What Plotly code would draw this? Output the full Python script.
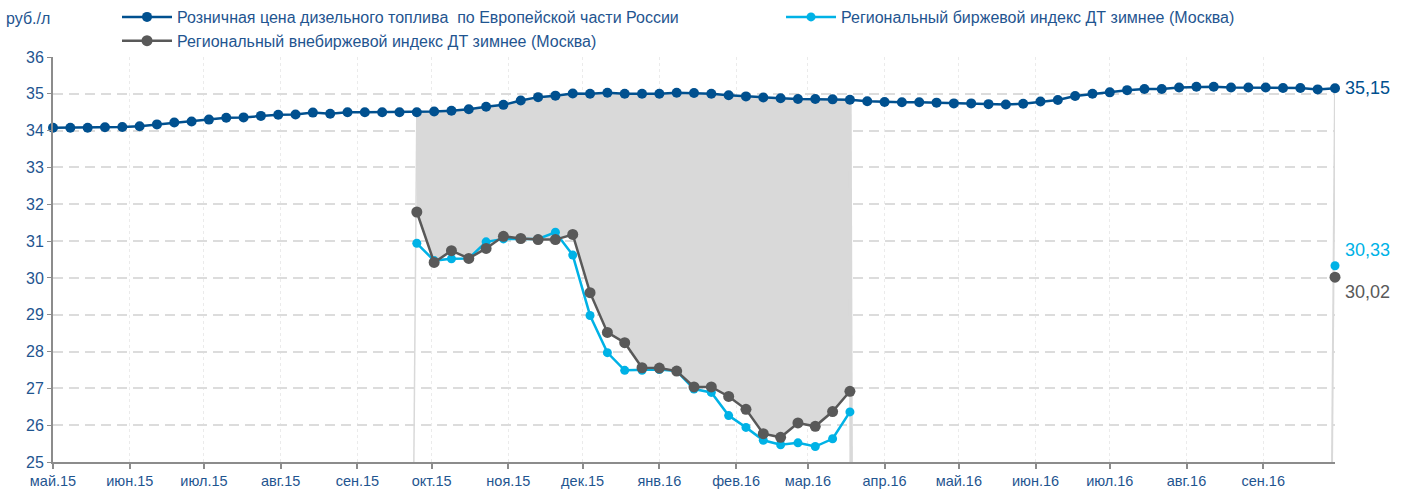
import pandas as pd
import plotly.graph_objects as go

# Weekly observation dates
dates = pd.date_range("2015-05-01", periods=75, freq="7D")

# Retail diesel price, European Russia (rub/l)
retail = [
    34.08, 34.08, 34.08, 34.09, 34.10, 34.12, 34.17, 34.22, 34.25, 34.30,
    34.35, 34.36, 34.40, 34.43, 34.44, 34.49, 34.46, 34.50, 34.50, 34.50,
    34.50, 34.50, 34.52, 34.54, 34.58, 34.65, 34.70, 34.82, 34.91, 34.95,
    35.01, 35.00, 35.03, 35.00, 35.00, 35.00, 35.03, 35.02, 35.00, 34.96,
    34.93, 34.90, 34.88, 34.86, 34.86, 34.85, 34.84, 34.80, 34.78, 34.77,
    34.77, 34.76, 34.74, 34.74, 34.72, 34.71, 34.73, 34.79, 34.83, 34.94,
    35.00, 35.04, 35.10, 35.13, 35.13, 35.17, 35.19, 35.19, 35.17, 35.17,
    35.17, 35.16, 35.16, 35.12, 35.15,
]

# Winter diesel indices (Moscow): winter season block + latest value
season_start = 21
exchange_season = [
    30.94, 30.47, 30.52, 30.53, 30.98, 31.06, 31.06, 31.06, 31.24, 30.62,
    28.98, 27.97, 27.49, 27.49, 27.51, 27.47, 26.98, 26.89, 26.26, 25.94,
    25.59, 25.47, 25.52, 25.42, 25.63, 26.36,
]
offexchange_season = [
    31.79, 30.42, 30.74, 30.53, 30.80, 31.13, 31.07, 31.04, 31.04, 31.18,
    29.60, 28.52, 28.24, 27.56, 27.55, 27.47, 27.04, 27.04, 26.78, 26.43,
    25.77, 25.67, 26.06, 25.97, 26.37, 26.92,
]
exchange_last = 30.33
offexchange_last = 30.02

month_ticks = pd.date_range("2015-05-01", periods=17, freq="MS")
month_labels = [
    "май.15", "июн.15", "июл.15", "авг.15", "сен.15", "окт.15", "ноя.15",
    "дек.15", "янв.16", "фев.16", "мар.16", "апр.16", "май.16", "июн.16",
    "июл.16", "авг.16", "сен.16",
]
y_ticks = list(range(25, 37))

C_RETAIL = "#00508f"
C_EXCH = "#00b2e6"
C_OFF = "#595959"
C_FILL = "#d9d9d9"
C_TEXT = "#1f5590"
FONT = "Liberation Sans, Arial, sans-serif"

n = len(dates)
season_end = season_start + len(exchange_season) - 1


def full_series(season_vals, last_val):
    vals = [None] * n
    for k, v in enumerate(season_vals):
        vals[season_start + k] = v
    vals[-1] = last_val
    return vals


exchange = full_series(exchange_season, exchange_last)
offexchange = full_series(offexchange_season, offexchange_last)

fig = go.Figure()

# Shaded spread between retail price and off-exchange index
seg = list(range(season_start, season_end + 1))
fig.add_trace(go.Scatter(
    x=[dates[i] for i in seg] + [dates[i] for i in reversed(seg)],
    y=[retail[i] for i in seg] + [offexchange[i] for i in reversed(seg)],
    fill="toself", fillcolor=C_FILL, mode="lines",
    line=dict(width=0, color=C_FILL), hoverinfo="skip", showlegend=False,
))

# Thin edges of the shaded area dropping to the axis floor
edge_specs = [(season_start, -1.2, 1.5), (season_end, 0.5, 3.5), (n - 1, -1.2, 2)]
for idx, shift_days, w in edge_specs:
    fig.add_trace(go.Scatter(
        x=[dates[idx] + pd.Timedelta(days=shift_days), dates[idx]],
        y=[y_ticks[0], retail[idx]],
        mode="lines", line=dict(color=C_FILL, width=w),
        hoverinfo="skip", showlegend=False,
    ))

fig.add_trace(go.Scatter(
    x=dates, y=exchange, mode="lines+markers",
    name="Региональный биржевой индекс ДТ зимнее (Москва)",
    line=dict(color=C_EXCH, width=2.5), marker=dict(size=9, color=C_EXCH),
    connectgaps=False, cliponaxis=False, legend="legend2",
))
fig.add_trace(go.Scatter(
    x=dates, y=offexchange, mode="lines+markers",
    name="Региональный внебиржевой индекс ДТ зимнее (Москва)",
    line=dict(color=C_OFF, width=2.5), marker=dict(size=11, color=C_OFF),
    connectgaps=False, cliponaxis=False, legendrank=2,
))
fig.add_trace(go.Scatter(
    x=dates, y=retail, mode="lines+markers",
    name="Розничная цена дизельного топлива  по Европейской части России",
    line=dict(color=C_RETAIL, width=2.5), marker=dict(size=10, color=C_RETAIL),
    cliponaxis=False, legendrank=1,
))


def fmt(v):
    return f"{v:.2f}".replace(".", ",")


fig.add_annotation(x=dates[-1], y=retail[-1], text=fmt(retail[-1]),
                   xanchor="left", yanchor="middle", xshift=8, showarrow=False,
                   font=dict(size=18, color=C_RETAIL, family=FONT))
fig.add_annotation(x=dates[-1], y=exchange_last, text=fmt(exchange_last),
                   xanchor="left", yanchor="middle", xshift=8, yshift=16,
                   showarrow=False, font=dict(size=18, color=C_EXCH, family=FONT))
fig.add_annotation(x=dates[-1], y=offexchange_last, text=fmt(offexchange_last),
                   xanchor="left", yanchor="middle", xshift=8, yshift=-15,
                   showarrow=False, font=dict(size=18, color=C_OFF, family=FONT))
fig.add_annotation(xref="paper", yref="paper", x=-0.038, y=1.0, yshift=39,
                   text="руб./л", xanchor="left", yanchor="middle", showarrow=False,
                   font=dict(size=16, color=C_TEXT, family=FONT))

legend_style = dict(
    orientation="v", xanchor="left", yanchor="top", itemwidth=50,
    xref="container", yref="container",
    font=dict(size=16, color=C_TEXT, family=FONT),
    bgcolor="rgba(0,0,0,0)", traceorder="normal",
)

fig.update_layout(
    width=1408, height=492,
    margin=dict(l=53, r=73, t=57, b=30, autoexpand=False),
    paper_bgcolor="white", plot_bgcolor="white",
    font=dict(family=FONT, color=C_TEXT, size=14),
    legend=dict(x=0.0831, y=1.0, **legend_style),
    legend2=dict(x=0.5547, y=1.0, **legend_style),
    xaxis=dict(
        range=[dates[0], dates[-1]], tickvals=month_ticks, ticktext=month_labels,
        showline=True, linecolor="#8c8c8c", linewidth=2,
        ticks="outside", ticklen=5, tickcolor="#8c8c8c", tickwidth=1.5,
        showgrid=True, gridcolor="#ebebeb", griddash="dot", gridwidth=1,
        tickfont=dict(size=14.5, color=C_TEXT), zeroline=False,
    ),
    yaxis=dict(
        range=[25, 36], tickvals=y_ticks,
        showline=True, linecolor="#8c8c8c", linewidth=2,
        ticks="outside", ticklen=4, tickcolor="#8c8c8c",
        showgrid=True, gridcolor="#dcdcdc", griddash="10px,6px", gridwidth=1.5,
        tickfont=dict(size=16, color=C_TEXT), zeroline=False,
    ),
)

fig.write_html("out.html")
